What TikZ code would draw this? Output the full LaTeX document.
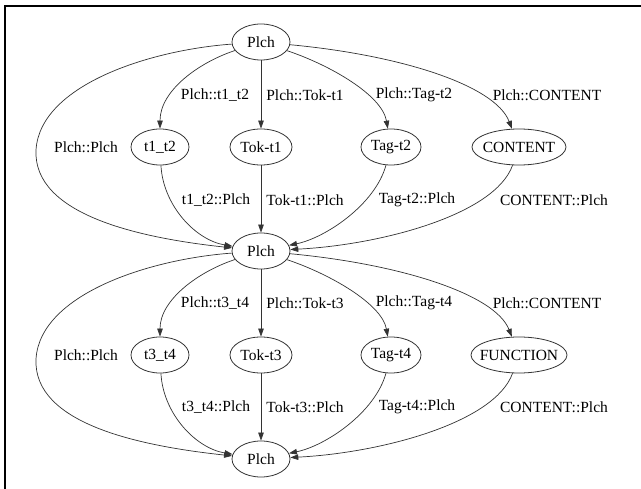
\documentclass[tikz,border=0pt]{standalone}
\usepackage{fontspec}
\setmainfont{Liberation Serif}
\usetikzlibrary{arrows.meta,shapes.geometric}
\tikzset{
	state/.style={draw=black!80, ellipse, line width=0.8pt, inner xsep=-20pt, inner ysep=0pt, minimum height=36pt, font=\fontsize{15.5}{18}\selectfont},
	lbl/.style={inner sep=0pt, font=\fontsize{15.5}{18}\selectfont},
	edge/.style={draw=black!80, line width=0.7pt, -{Triangle[length=8pt,width=5.5pt]}}
}

\begin{document}
\begin{tikzpicture}[x=1pt,y=-1pt]
			%%%%% START %%%%%
			\useasboundingbox (0,0) rectangle (641,489);
			\draw[line width=2.5pt] (5,489) -- (5,6) -- (641,6);
			
			% states
			\node[state, minimum width=58pt] (p1) at (261,42) {Plch};
			\node[state, minimum width=58pt] (t12) at (160,147) {t1\_t2};
			\node[state, minimum width=62pt] (tok1) at (261,147) {Tok-t1};
			\node[state, minimum width=60pt] (tag2) at (391,147) {Tag-t2};
			\node[state, minimum width=94pt] (cont) at (519,147) {CONTENT};
			\node[state, minimum width=58pt] (p2) at (261,251) {Plch};
			\node[state, minimum width=58pt] (t34) at (160,355) {t3\_t4};
			\node[state, minimum width=62pt] (tok3) at (261,355) {Tok-t3};
			\node[state, minimum width=60pt] (tag4) at (391,355) {Tag-t4};
			\node[state, minimum width=96pt] (func) at (519,355) {FUNCTION};
			\node[state, minimum width=58pt] (p3) at (261,459) {Plch};
			
			% labels, upper half
			\node[lbl] (l1) at (86,147) {Plch::Plch};
			\node[lbl] (l2) at (215,95) {Plch::t1\_t2};
			\node[lbl] (l3) at (305,95) {Plch::Tok-t1};
			\node[lbl] (l4) at (414,95) {Plch::Tag-t2};
			\node[lbl] (l5) at (547,95) {Plch::CONTENT};
			\node[lbl] (l6) at (216,200) {t1\_t2::Plch};
			\node[lbl] (l7) at (305,200) {Tok-t1::Plch};
			\node[lbl] (l8) at (417,200) {Tag-t2::Plch};
			\node[lbl] (l9) at (554,200) {CONTENT::Plch};
			
			% labels, lower half
			\node[lbl] (m1) at (86,355) {Plch::Plch};
			\node[lbl] (m2) at (215,303) {Plch::t3\_t4};
			\node[lbl] (m3) at (305,303) {Plch::Tok-t3};
			\node[lbl] (m4) at (414,303) {Plch::Tag-t4};
			\node[lbl] (m5) at (547,303) {Plch::CONTENT};
			\node[lbl] (m6) at (216,407) {t3\_t4::Plch};
			\node[lbl] (m7) at (305,407) {Tok-t3::Plch};
			\node[lbl] (m8) at (417,407) {Tag-t4::Plch};
			\node[lbl] (m9) at (554,407) {CONTENT::Plch};
			
			% edges, upper half
			\draw[edge] (p1) .. controls (150,50) and (40,85) .. (36,150) .. controls (33,215) and (140,238) .. (p2);
			\draw[edge] (p1) .. controls (200,62) and (160,90) .. (t12);
			\draw[edge] (p1) -- (tok1);
			\draw[edge] (p1) .. controls (330,65) and (382,95) .. (tag2);
			\draw[edge] (p1) .. controls (400,55) and (495,85) .. (cont);
			\draw[edge] (t12) .. controls (163,205) and (195,240) .. (p2);
			\draw[edge] (tok1) -- (p2);
			\draw[edge] (tag2) .. controls (375,205) and (325,238) .. (p2);
			\draw[edge] (cont) .. controls (495,215) and (380,245) .. (p2);
			
			% edges, lower half
			\draw[edge] (p2) .. controls (150,259) and (40,294) .. (36,359) .. controls (33,424) and (140,446) .. (p3);
			\draw[edge] (p2) .. controls (200,271) and (160,299) .. (t34);
			\draw[edge] (p2) -- (tok3);
			\draw[edge] (p2) .. controls (330,274) and (382,304) .. (tag4);
			\draw[edge] (p2) .. controls (400,264) and (495,294) .. (func);
			\draw[edge] (t34) .. controls (163,413) and (195,448) .. (p3);
			\draw[edge] (tok3) -- (p3);
			\draw[edge] (tag4) .. controls (375,413) and (325,446) .. (p3);
			\draw[edge] (func) .. controls (495,423) and (380,453) .. (p3);
			%%%%% END %%%%%
\end{tikzpicture}
\end{document}
